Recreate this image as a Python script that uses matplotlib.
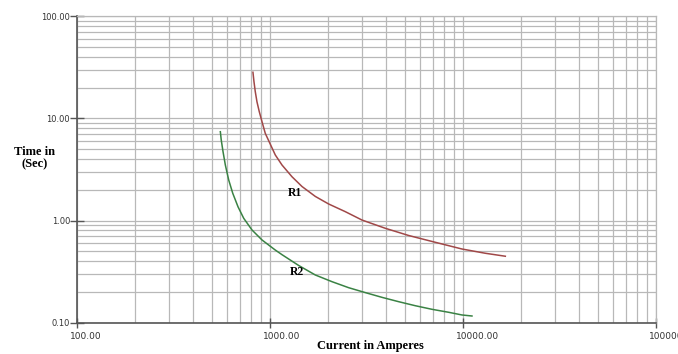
import matplotlib
matplotlib.use("Agg")
import matplotlib.pyplot as plt
from matplotlib.ticker import LogLocator, FixedLocator, FuncFormatter, NullFormatter
from matplotlib.transforms import ScaledTranslation

# values (current in A, time in s)
r1_current = [816, 826, 839, 856, 880, 909, 945, 1065, 1154, 1300, 1465, 1717, 2014,
              2456, 2998, 3958, 5233, 7186, 9881, 13050, 16570]
r1_time = [28.2, 22.8, 18.2, 14.5, 11.6, 9.26, 7.13, 4.38, 3.49, 2.68, 2.15, 1.72, 1.45,
           1.22, 1.01, 0.839, 0.713, 0.612, 0.526, 0.478, 0.447]

r2_current = [553, 559, 571, 587, 611, 641, 683, 731, 807, 909, 1065, 1154, 1408, 1717, 2095,
              2557, 3118, 3805, 4644, 5661, 6910, 8433, 9881, 11130]
r2_time = [7.39, 6.13, 4.71, 3.49, 2.49, 1.85, 1.36, 1.05, 0.807, 0.645, 0.514, 0.463, 0.363,
           0.293, 0.252, 0.220, 0.197, 0.177, 0.1605, 0.1466, 0.1352, 0.1264, 0.119, 0.1163]

x_major = [100, 1000, 10000, 100000]
y_major = [0.1, 1, 10, 100]

fig = plt.figure(figsize=(6.78, 3.54), dpi=100)
ax = fig.add_axes([77 / 678, 31.3 / 354, 579 / 678, 306.6 / 354])
ax.set_xscale("log")
ax.set_yscale("log")
ax.set_xlim(100, 100000)
ax.set_ylim(0.1, 100)

grid_col = "#b8b8b8"
ax.xaxis.set_major_locator(FixedLocator(x_major))
ax.yaxis.set_major_locator(FixedLocator(y_major))
ax.xaxis.set_minor_locator(LogLocator(base=10, subs=range(2, 10)))
ax.yaxis.set_minor_locator(LogLocator(base=10, subs=range(2, 10)))
ax.xaxis.set_minor_formatter(NullFormatter())
ax.yaxis.set_minor_formatter(NullFormatter())
fmt = FuncFormatter(lambda v, p: "%.2f" % v)
ax.xaxis.set_major_formatter(fmt)
ax.yaxis.set_major_formatter(fmt)
ax.grid(True, which="both", color=grid_col, linewidth=0.9)
ax.set_axisbelow(True)

ax.tick_params(which="major", direction="inout", width=1, color="#555555", labelcolor="#333333")
ax.tick_params(axis="y", which="major", length=10, labelsize=6, pad=0)
ax.tick_params(axis="x", which="major", length=7, labelsize=6.5, pad=3)
ax.tick_params(which="minor", length=0)

# x labels start a little left of their tick, like the original software
# (the last one runs off the right edge, as in the original)
shift = ScaledTranslation(-0.07, 0, fig.dpi_scale_trans)
for lab in ax.get_xticklabels():
    lab.set_horizontalalignment("left")
    lab.set_transform(lab.get_transform() + shift)

for s in ["left", "bottom"]:
    ax.spines[s].set_color("#555555")
    ax.spines[s].set_linewidth(1.2)
for s in ["top", "right"]:
    ax.spines[s].set_color(grid_col)
    ax.spines[s].set_linewidth(0.9)

ax.plot(r1_current, r1_time, color="#a04848", linewidth=1.1)
ax.plot(r2_current, r2_time, color="#3a8244", linewidth=1.1)

ax.text(1350, 1.85, "R1", family="Liberation Serif", weight="bold", fontsize=8.5, ha="center", va="center")
ax.text(1380, 0.31, "R2", family="Liberation Serif", weight="bold", fontsize=8.5, ha="center", va="center")

fig.text(35 / 678, 1 - 158 / 354, "Time in\n(Sec)", family="Liberation Serif", weight="bold",
         fontsize=9, ha="center", va="center", linespacing=1.1)
fig.text(370 / 678, 1 - 346 / 354, "Current in Amperes", family="Liberation Serif", weight="bold",
         fontsize=9, ha="center", va="center")

fig.savefig("out.png", dpi=100)
